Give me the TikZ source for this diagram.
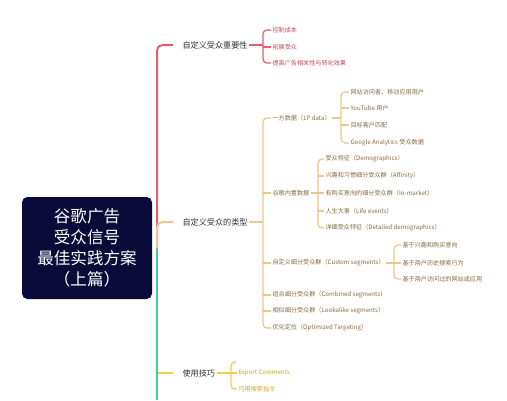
\documentclass[tikz,border=0pt]{standalone}
\usepackage{fontspec}
\setmainfont{Noto Sans CJK SC}
\definecolor{rootnavy}{HTML}{0B0B3A}
\definecolor{impred}{HTML}{E0606E}
\definecolor{impredtext}{HTML}{C24A5A}
\definecolor{typtan}{HTML}{EBC88C}
\definecolor{typtantext}{HTML}{8A6A42}
\definecolor{tipyellow}{HTML}{F6CD4C}
\definecolor{tipyellowtext}{HTML}{D2A226}
\definecolor{moregreen}{HTML}{4CC9A0}
\definecolor{lvonetext}{HTML}{333333}
\tikzset{every picture/.style={line width=0.75pt}}
\tikzset{
  lvone/.style={anchor=west, inner sep=0.75pt, text=lvonetext, font=\fontsize{6.1}{7}\selectfont},
  leaf/.style={anchor=west, inner sep=0.75pt, font=\fontsize{4.6}{5.5}\selectfont},
  spine/.style={line width=1.5pt, rounded corners=4pt},
  brace/.style={line width=0.9pt, rounded corners=3pt},
}

\begin{document}
\begin{tikzpicture}[x=0.75pt,y=0.75pt,yscale=-1,xscale=1]
\useasboundingbox (0,0) rectangle (507,400);
% Root
\draw (87,248) node (root) [fill=rootnavy, rounded corners=4pt, minimum width=97.5pt, minimum height=76.5pt, inner sep=0pt, text=white, align=center, font=\fontsize{12.4}{15.8}\selectfont] {谷歌广告\\受众信号\\最佳实践方案\\（上篇）};
\coordinate (hub) at (157,248);
\coordinate (more) at (157,400);
% Level one
\draw (181,45) node (imp) [lvone] {自定义受众重要性};
\draw (181,222) node (typ) [lvone] {自定义受众的类型};
\draw (181,373) node (tip) [lvone] {使用技巧};
% Bracket bars
\coordinate (impbar) at (263,0);
\coordinate (typbar) at (263,0);
\coordinate (fpdbar) at (341,0);
\coordinate (ggdbar) at (318,0);
\coordinate (cusbar) at (394,0);
\coordinate (tipbar) at (231,0);
\coordinate (tiptop) at (236,362);
% Text Node -- importance
\draw (271,30) node (imp1) [leaf, text=impredtext] {控制成本};
\draw (271,47) node (imp2) [leaf, text=impredtext] {拓展受众};
\draw (271,63) node (imp3) [leaf, text=impredtext] {提高广告相关性与转化效果};
% Text Node -- types
\draw (271,118) node (typ1) [leaf, text=typtantext] {一方数据（1P data）};
\draw (271,193) node (typ2) [leaf, text=typtantext] {谷歌内置数据};
\draw (271,263) node (typ3) [leaf, text=typtantext] {自定义细分受众群（Custom segments）};
\draw (271,295) node (typ4) [leaf, text=typtantext] {组合细分受众群（Combined segments）};
\draw (271,311) node (typ5) [leaf, text=typtantext] {相似细分受众群（Lookalike segments）};
\draw (271,328) node (typ6) [leaf, text=typtantext] {优化定位（Optimized Targeting）};
% Text Node -- 1P data
\draw (349,92) node (fpd1) [leaf, text=typtantext] {网站访问者、移动应用用户};
\draw (349,108) node (fpd2) [leaf, text=typtantext] {YouTube 用户};
\draw (349,125) node (fpd3) [leaf, text=typtantext] {目标客户匹配};
\draw (349,143) node (fpd4) [leaf, text=typtantext] {Google Analytics 受众数据};
% Text Node -- Google data
\draw (324,159) node (ggd1) [leaf, text=typtantext] {受众特征（Demographics）};
\draw (324,176) node (ggd2) [leaf, text=typtantext] {兴趣和习惯细分受众群（Affinity）};
\draw (324,193) node (ggd3) [leaf, text=typtantext] {有购买意向的细分受众群（In-market）};
\draw (324,211) node (ggd4) [leaf, text=typtantext] {人生大事（Life events）};
\draw (324,228) node (ggd5) [leaf, text=typtantext] {详细受众特征（Detailed demographics）};
% Text Node -- custom segments
\draw (401,245) node (cus1) [leaf, text=typtantext] {基于兴趣和购买意向};
\draw (401,263) node (cus2) [leaf, text=typtantext] {基于用户历史搜索行为};
\draw (401,279) node (cus3) [leaf, text=typtantext] {基于用户访问过的网站或应用};
% Text Node -- tips
\draw (237,373) node (tip1) [leaf, text=tipyellowtext] {Export Comments};
\draw (237,389) node (tip2) [leaf, text=tipyellowtext] {巧用搜索指令};

% Spine
\draw[spine, impred, shorten >=6pt] (hub) |- (imp.west);
\draw[spine, typtan, shorten >=6pt] (hub) |- (typ.west);
\draw[spine, tipyellow, shorten >=6pt] (hub |- tip.west) -- (tip.west);
\draw[spine, moregreen] (hub) -- (more);

% importance bracket
\draw[brace, impred] (imp.east) -- (imp.east -| impbar);
\draw[brace, impred] (imp1.west) -- (imp1.west -| impbar) -- (imp3.west -| impbar) -- (imp3.west);
\draw[brace, impred] (imp2.west -| impbar) -- (imp2.west);
% types bracket
\draw[brace, typtan] (typ.east) -- (typ.east -| typbar);
\draw[brace, typtan] (typ1.west) -- (typ1.west -| typbar) -- (typ6.west -| typbar) -- (typ6.west);
\foreach \k in {2,3,4,5} \draw[brace, typtan] (typ\k.west -| typbar) -- (typ\k.west);
% 1P data bracket
\draw[brace, typtan] (typ1.east) -- (typ1.east -| fpdbar);
\draw[brace, typtan] (fpd1.west) -- (fpd1.west -| fpdbar) -- (fpd4.west -| fpdbar) -- (fpd4.west);
\foreach \k in {2,3} \draw[brace, typtan] (fpd\k.west -| fpdbar) -- (fpd\k.west);
% Google data bracket
\draw[brace, typtan] (typ2.east) -- (typ2.east -| ggdbar);
\draw[brace, typtan] (ggd1.west) -- (ggd1.west -| ggdbar) -- (ggd5.west -| ggdbar) -- (ggd5.west);
\foreach \k in {2,3,4} \draw[brace, typtan] (ggd\k.west -| ggdbar) -- (ggd\k.west);
% custom segments bracket
\draw[brace, typtan] (typ3.east) -- (typ3.east -| cusbar);
\draw[brace, typtan] (cus1.west) -- (cus1.west -| cusbar) -- (cus3.west -| cusbar) -- (cus3.west);
\draw[brace, typtan] (cus2.west -| cusbar) -- (cus2.west);
% tips bracket
\draw[brace, tipyellow] (tip.east) -- (tip.east -| tipbar);
\draw[brace, tipyellow] (tiptop) -- (tiptop -| tipbar) -- (tip2.west -| tipbar) -- (tip2.west);
\draw[brace, tipyellow] (tip1.west -| tipbar) -- (tip1.west);
\end{tikzpicture}
\end{document}
